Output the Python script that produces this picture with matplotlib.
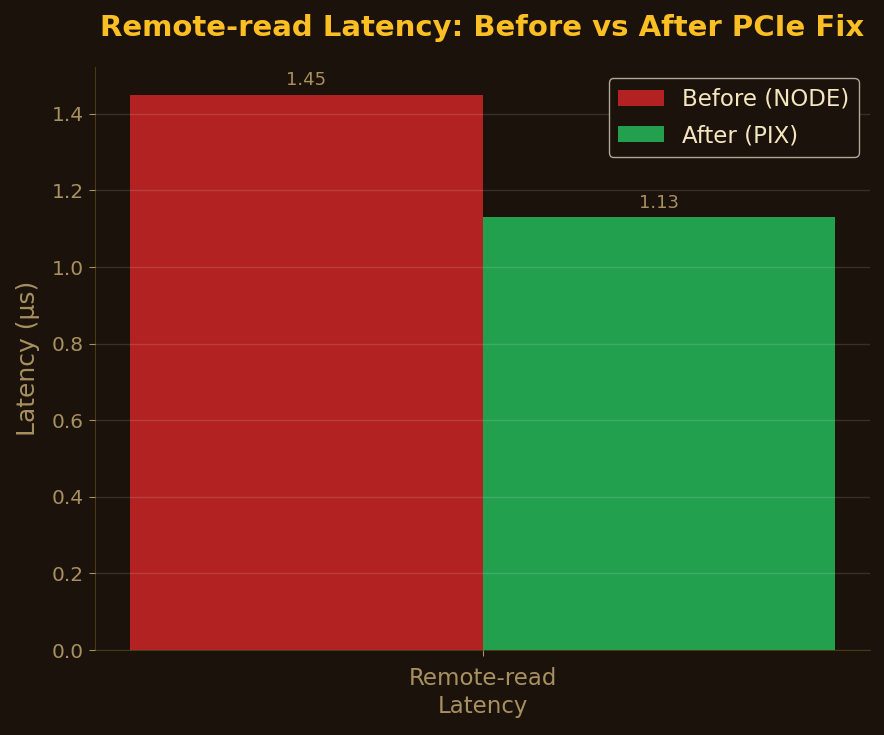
import matplotlib
matplotlib.use("Agg")
import matplotlib.pyplot as plt
import numpy as np

categories = ["Remote-read\nLatency"]
series_names = ["Before (NODE)", "After (PIX)"]
before_vals = [1.45]
after_vals = [1.13]

bg = "#1a120b"
tick_col = "#a8905f"
red = "#b22222"
green = "#22a04e"

fig = plt.figure(figsize=(8.84, 7.35), dpi=100, facecolor=bg)
ax = fig.add_axes([95/884, 1-650/735, (870-95)/884, (650-67)/735])
ax.set_facecolor(bg)

x = np.arange(len(categories))
w = 0.35
b1 = ax.bar(x - w/2, before_vals, w, color=red, label=series_names[0], zorder=2)
b2 = ax.bar(x + w/2, after_vals, w, color=green, label=series_names[1], zorder=2)

for bars in (b1, b2):
    for r in bars:
        ax.annotate(f"{r.get_height():.2f}", (r.get_x() + r.get_width()/2, r.get_height()),
                    xytext=(0, 4), textcoords="offset points", ha="center", va="bottom",
                    fontsize=13, color=tick_col)

ax.set_xticks(x)
ax.set_xticklabels(categories, fontsize=16.5, color=tick_col, linespacing=1.25)
ax.tick_params(axis="y", labelsize=14.5, labelcolor=tick_col, color=tick_col, length=4.5)
ax.tick_params(axis="x", color=tick_col, length=4.5, pad=8)
ax.set_ylabel("Latency (μs)", fontsize=18, color=tick_col, labelpad=8.5)
ax.yaxis.grid(True, color="#ffffff", alpha=0.13, linewidth=1, zorder=3)
ax.set_axisbelow(False)
for s in ("top", "right"):
    ax.spines[s].set_visible(False)
for s in ("left", "bottom"):
    ax.spines[s].set_color("#4a3a14")

ax.set_title("Remote-read Latency: Before vs After PCIe Fix", fontsize=21, fontweight="bold",
             color="#fbbf24", pad=22)

leg = ax.legend(fontsize=16.5, loc="upper right", facecolor=bg, edgecolor="#b0a898",
                framealpha=1, labelspacing=0.6)
for t in leg.get_texts():
    t.set_color("#f5e6c0")

fig.savefig("out.png", dpi=100, facecolor=bg)
